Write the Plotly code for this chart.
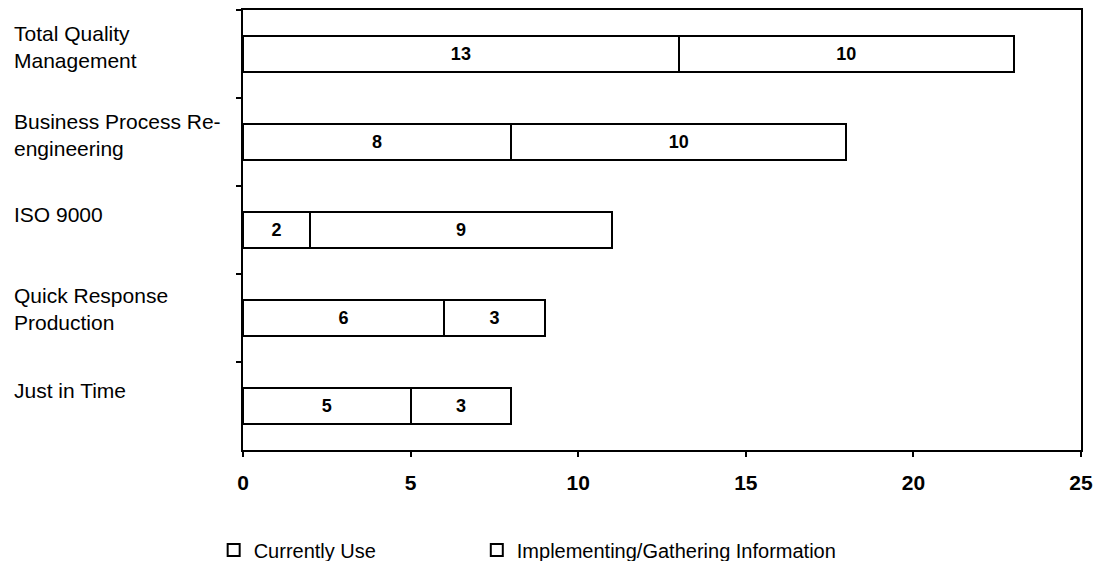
import plotly.graph_objects as go

categories = ["Total Quality<br>Management", "Business Process Re-<br>engineering", "ISO 9000",
              "Quick Response<br>Production", "Just in Time"]
currently_use = [13, 8, 2, 6, 5]
implementing = [10, 10, 9, 3, 3]
series_names = ["Currently Use", "Implementing/Gathering Information"]
x_ticks = [0, 5, 10, 15, 20, 25]

# label vertical offsets (px, styling only)
label_shift = [7, 7, 16, 9, 16]

FONT = "Liberation Sans, Arial, sans-serif"

fig = go.Figure()
legends = ["legend", "legend2"]
for name, vals, lg in zip(series_names, [currently_use, implementing], legends):
    fig.add_trace(go.Bar(
        y=categories, x=vals, name=name, orientation="h", legend=lg,
        marker=dict(color="white", line=dict(color="black", width=2)),
        text=[str(v) for v in vals], textposition="inside", insidetextanchor="middle",
        textfont=dict(family=FONT, size=18, color="black", weight="bold"),
        width=0.42, cliponaxis=False, hoverinfo="skip",
    ))

for c, s in zip(categories, label_shift):
    fig.add_annotation(
        x=0, xref="paper", xanchor="left", xshift=-231,
        y=c, yref="y", yanchor="middle", yshift=s,
        text=c, showarrow=False, align="left",
        font=dict(family=FONT, size=21, color="black"),
    )

leg_common = dict(orientation="h", y=-0.227, yanchor="middle", xanchor="left",
                  font=dict(family=FONT, size=20, color="black"),
                  bgcolor="rgba(0,0,0,0)")

fig.update_layout(
    width=1096, height=561,
    margin=dict(l=243, r=15, t=10, b=111, autoexpand=False),
    barmode="stack",
    plot_bgcolor="white", paper_bgcolor="white",
    showlegend=True,
    legend=dict(x=-0.035, **leg_common),
    legend2=dict(x=0.279, **leg_common),
    xaxis=dict(range=[0, 25], tickvals=x_ticks, showgrid=False, zeroline=False,
               showline=True, linecolor="black", linewidth=2, mirror=True,
               ticks="outside", ticklen=5, tickcolor="black", tickwidth=1.5,
               ticklabelstandoff=8,
               tickfont=dict(family=FONT, size=21, color="black", weight="bold")),
    yaxis=dict(autorange="reversed", showgrid=False, zeroline=False, showticklabels=False,
               showline=True, linecolor="black", linewidth=2, mirror=True,
               ticks="outside", tickson="boundaries", ticklen=5, tickcolor="black", tickwidth=1.5),
)

fig.write_html("out.html", config={"displayModeBar": False},
               post_script="document.body.style.margin='0';document.body.style.overflow='hidden';")
